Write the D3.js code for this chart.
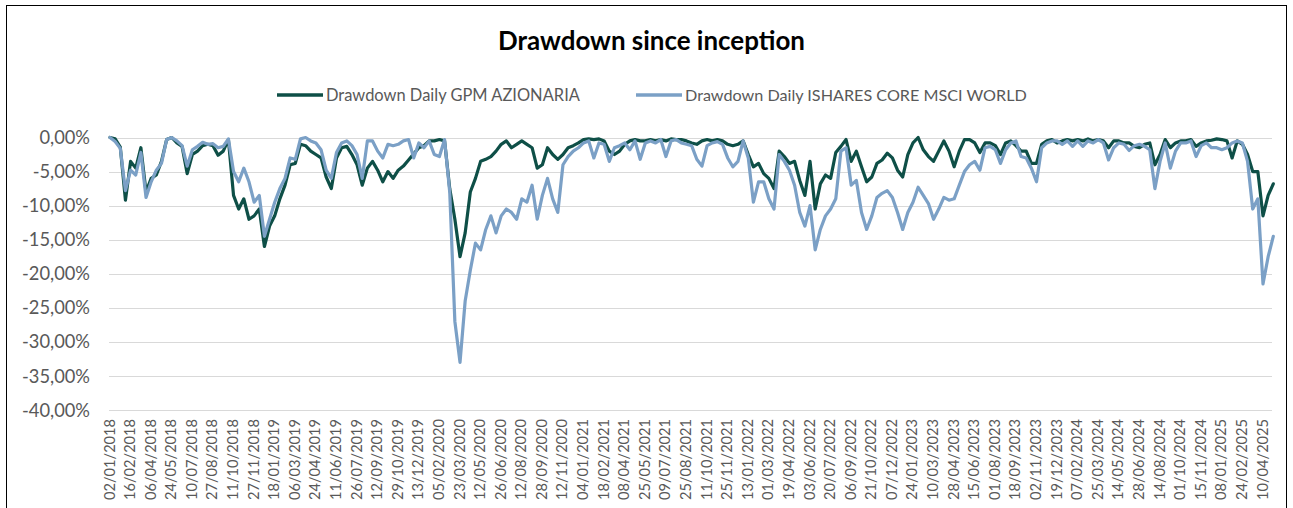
<!DOCTYPE html>
<html>
<head>
<meta charset="utf-8">
<script src="https://cdn.jsdelivr.net/npm/d3@7"></script>
<style>
  html, body { margin: 0; padding: 0; background: #fff; }
  svg { display: block; }
</style>
</head>
<body>
<svg id="chart" width="1293" height="508"></svg>
<script>
// etichette dell'asse x (una ogni 33 sedute)
const tickLabels = [
  '02/01/2018','16/02/2018','06/04/2018','24/05/2018','10/07/2018','27/08/2018','11/10/2018','27/11/2018',
  '18/01/2019','06/03/2019','24/04/2019','11/06/2019','26/07/2019','12/09/2019','29/10/2019','13/12/2019',
  '05/02/2020','23/03/2020','12/05/2020','26/06/2020','12/08/2020','28/09/2020','12/11/2020',
  '04/01/2021','18/02/2021','08/04/2021','25/05/2021','09/07/2021','25/08/2021','11/10/2021','25/11/2021',
  '13/01/2022','01/03/2022','19/04/2022','03/06/2022','20/07/2022','06/09/2022','21/10/2022','07/12/2022',
  '24/01/2023','10/03/2023','28/04/2023','15/06/2023','01/08/2023','18/09/2023','02/11/2023','19/12/2023',
  '07/02/2024','25/03/2024','14/05/2024','28/06/2024','14/08/2024','01/10/2024','15/11/2024',
  '08/01/2025','24/02/2025','10/04/2025'
];
const daysPerLabel = 33;
const daysPerPoint = 8.25; // un valore campionato ogni 8,25 sedute

const seriesNames = ['Drawdown Daily GPM AZIONARIA', 'Drawdown Daily ISHARES CORE MSCI WORLD'];

// drawdown in %
const gpm = [
  0,-0.2,-1.4,-9.2,-3.5,-4.5,-1.5,-8.0,-6.0,-5.5,-3.5,-0.3,0,-0.8,-1.3,-5.3,-2.5,-2.0,-1.2,-1.0,
  -1.2,-2.6,-2.0,-0.3,-8.5,-10.5,-9.0,-12.0,-11.5,-10.5,-16.0,-13.0,-11.5,-9.0,-7.0,-4.0,-3.8,-1.0,-1.2,-2.0,
  -2.5,-3.0,-5.8,-7.5,-3.0,-1.5,-1.3,-2.5,-4.0,-7.0,-4.5,-3.5,-4.8,-6.5,-5.0,-6.0,-4.8,-4.2,-3.3,-2.4,
  -1.5,-1.2,-0.5,-0.5,-0.3,-0.5,-7.5,-12.0,-17.5,-14.0,-8.0,-6.0,-3.5,-3.2,-2.8,-2.0,-1.0,-0.5,-1.5,-1.0,
  -0.5,-1.0,-1.5,-4.5,-4.0,-1.5,-2.5,-3.2,-2.5,-1.5,-1.2,-0.8,-0.3,-0.2,-0.3,-0.2,-0.5,-2.0,-2.5,-2.0,
  -1.0,-0.5,-0.3,-0.5,-0.5,-0.3,-0.5,-0.3,-0.5,-0.2,-0.3,-0.3,-0.5,-0.8,-1.0,-0.5,-0.3,-0.5,-0.3,-0.5,
  -1.0,-1.2,-1.0,-0.5,-2.5,-4.3,-3.8,-5.3,-6.0,-7.5,-2.0,-2.8,-3.8,-3.5,-6.3,-8.5,-3.5,-10.5,-6.8,-5.5,
  -6.0,-2.2,-1.3,-0.3,-3.5,-2.0,-4.3,-6.5,-5.8,-3.8,-3.3,-2.3,-3.0,-4.8,-5.8,-2.5,-0.8,0,-1.8,-2.8,
  -3.5,-2.0,-0.5,-2.0,-4.3,-2.0,-0.3,-0.3,-0.8,-2.2,-0.8,-0.8,-1.2,-2.5,-0.8,-0.5,-1.2,-2.0,-2.0,-3.8,
  -3.8,-1.0,-0.5,-0.3,-0.8,-0.5,-0.3,-0.5,-0.3,-0.5,-0.2,-0.5,-0.3,-0.5,-1.5,-0.5,-0.5,-0.8,-0.8,-1.3,
  -1.5,-1.0,-0.8,-4.0,-2.5,-0.3,-1.5,-0.8,-0.5,-0.5,-0.3,-1.3,-0.8,-0.5,-0.4,-0.2,-0.3,-0.5,-3.0,-0.5,
  -1.0,-2.5,-5.0,-5.0,-11.5,-8.5,-6.8
];
const msci = [
  0,-0.6,-1.6,-7.8,-4.8,-5.5,-2.2,-8.8,-6.5,-4.8,-3.8,-0.3,0,-0.5,-1.2,-4.2,-1.8,-1.3,-0.7,-1.0,
  -0.9,-1.5,-1.3,-0.2,-5.0,-6.5,-4.5,-6.5,-9.5,-8.5,-14.5,-12.0,-9.5,-7.5,-6.0,-3.0,-3.2,-0.2,0,-0.5,
  -0.8,-1.8,-4.8,-6.0,-2.2,-0.8,-0.5,-1.2,-2.5,-6.0,-0.5,-0.5,-2.0,-3.0,-1.0,-1.2,-1.0,-0.5,-0.3,-3.0,
  -0.8,-1.5,-0.5,-2.5,-2.8,-0.3,-8.0,-27.0,-33.0,-24.0,-19.5,-15.5,-16.5,-13.5,-11.5,-14.0,-11.5,-10.5,-11.0,-12.0,
  -9.0,-9.5,-7.0,-12.0,-8.5,-6.0,-9.0,-11.0,-4.0,-2.8,-2.0,-1.5,-0.8,-0.5,-3.0,-0.8,-1.0,-3.5,-1.5,-1.2,
  -0.8,-1.8,-0.5,-3.2,-0.8,-0.5,-0.8,-0.3,-2.8,-0.5,-0.3,-0.8,-1.0,-1.2,-3.2,-4.2,-1.2,-0.8,-0.6,-1.0,
  -3.0,-4.3,-3.5,-0.5,-3.0,-9.5,-6.5,-6.5,-9.0,-10.5,-2.5,-3.5,-4.8,-7.0,-11.0,-13.0,-10.0,-16.5,-13.5,-11.5,
  -10.5,-9.0,-2.0,-1.5,-7.0,-6.3,-11.0,-13.5,-11.5,-8.8,-8.2,-7.8,-8.8,-11.0,-13.5,-11.0,-9.5,-7.3,-8.5,-9.7,
  -12.0,-10.5,-8.8,-9.2,-9.0,-7.0,-5.0,-4.0,-3.5,-4.8,-1.5,-1.3,-1.8,-3.8,-1.8,-0.8,-0.5,-2.8,-3.0,-4.5,
  -6.5,-1.5,-0.8,-0.5,-0.5,-1.0,-0.5,-1.3,-0.5,-1.3,-0.5,-0.8,-0.3,-0.8,-3.3,-1.5,-0.8,-1.0,-1.9,-1.2,
  -1.0,-1.3,-1.8,-7.5,-3.5,-0.8,-4.5,-2.0,-0.8,-0.8,-0.5,-2.8,-1.2,-0.8,-1.5,-1.5,-1.8,-1.5,-0.8,-0.5,
  -0.8,-3.5,-10.5,-9.0,-21.5,-17.5,-14.5
];
const yTicks = [0, -5, -10, -15, -20, -25, -30, -35, -40];

const colors = ['#0e4f47', '#7ba0c6'];
const FONT = 'Lato, "Open Sans", sans-serif';

const svg = d3.select('#chart');

// adatta la dimensione del font a una larghezza data
function fitWidth(sel, target) {
  sel.each(function () {
    const t = d3.select(this);
    const fs = +t.attr('font-size');
    const w = this.getComputedTextLength();
    if (w > 0) t.attr('font-size', fs * target / w);
  });
}

// cornice dell'area grafico
svg.append('rect')
  .attr('x', 6.5).attr('y', 5.5)
  .attr('width', 1280).attr('height', 520)
  .attr('fill', '#fff')
  .attr('stroke', '#000')
  .attr('stroke-width', 1);

const lastDay = (gpm.length - 1) * daysPerPoint;
const x = d3.scaleLinear()
  .domain([0, lastDay])
  .range([110, 110 + lastDay * (1153 / ((tickLabels.length - 1) * daysPerLabel))]);
const y = d3.scaleLinear().domain([-40, 0]).range([410, 137.5]);

const fmtPct = d => d3.format('.2f')(d).replace('.', ',').replace('\u2212', '-') + '%';

// griglia orizzontale
svg.append('g')
  .selectAll('line')
  .data(yTicks)
  .join('line')
    .attr('x1', 109).attr('x2', 1272)
    .attr('y1', d => Math.round(y(d)) + 0.5)
    .attr('y2', d => Math.round(y(d)) + 0.5)
    .attr('stroke', '#d9d9d9')
    .attr('stroke-width', 1);

// etichette asse y
const yLab = svg.append('g')
  .selectAll('text')
  .data(yTicks)
  .join('text')
    .attr('x', 90)
    .attr('y', d => y(d))
    .attr('dy', '0.36em')
    .attr('text-anchor', 'end')
    .attr('font-family', FONT)
    .attr('font-size', 15)
    .attr('fill', '#595959')
    .text(fmtPct);
const ySize = (() => {
  const n = yLab.filter(d => d === -40).node();
  return 15 * 68 / n.getComputedTextLength();
})();
yLab.attr('font-size', ySize);

// etichette asse x ruotate
const xLab = svg.append('g')
  .selectAll('text')
  .data(tickLabels)
  .join('text')
    .attr('transform', (d, i) => `translate(${x(i * daysPerLabel) + 4.5},419) rotate(-90)`)
    .attr('text-anchor', 'end')
    .attr('font-family', FONT)
    .attr('font-size', 13)
    .attr('fill', '#595959')
    .text(d => d);
const xSize = 13 * 81 / xLab.node().getComputedTextLength();
xLab.attr('font-size', xSize);

// linee
const line = d3.line()
  .x((d, i) => x(i * daysPerPoint))
  .y(d => y(d))
  .curve(d3.curveLinear);

[gpm, msci].forEach((s, k) => {
  svg.append('path')
    .datum(s)
    .attr('fill', 'none')
    .attr('stroke', colors[k])
    .attr('stroke-width', 3.2)
    .attr('stroke-linejoin', 'round')
    .attr('stroke-linecap', 'round')
    .attr('d', line);
});

// titolo
svg.append('text')
  .attr('x', 651.5).attr('y', 50)
  .attr('text-anchor', 'middle')
  .attr('font-family', FONT)
  .attr('font-weight', 'bold')
  .attr('font-size', 20)
  .attr('fill', '#000')
  .text('Drawdown since inception')
  .call(fitWidth, 307);

// legenda
const legendX = [277, 636];
const legendW = [254, 342];
const legend = svg.append('g')
  .selectAll('g')
  .data(seriesNames)
  .join('g')
    .attr('transform', (d, i) => `translate(${legendX[i]},95)`);

legend.append('line')
  .attr('x1', 0).attr('x2', 46)
  .attr('stroke', (d, i) => colors[i])
  .attr('stroke-width', 3.5);

legend.append('text')
  .attr('x', 49)
  .attr('dy', '0.36em')
  .attr('font-family', FONT)
  .attr('font-size', 15)
  .attr('fill', '#595959')
  .text(d => d)
  .each(function (d, i) { d3.select(this).call(fitWidth, legendW[i]); });
</script>
</body>
</html>
